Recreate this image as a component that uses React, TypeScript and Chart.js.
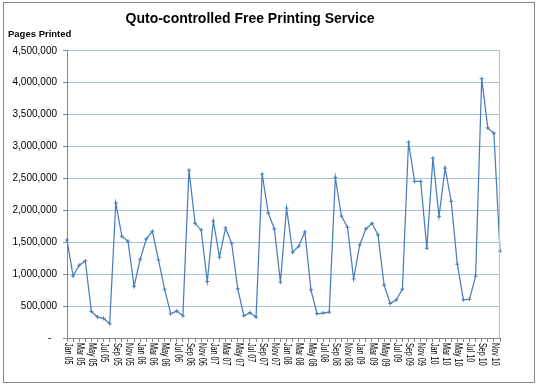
import React, { useEffect, useRef } from "react";
import { Chart, registerables } from "chart.js";

Chart.register(...registerables);

const monthNames = ["Jan", "Feb", "Mar", "Apr", "May", "Jun", "Jul", "Aug", "Sep", "Oct", "Nov", "Dec"];
const years = ["05", "06", "07", "08", "09", "10"];

const pages2005 = [1536000, 974000, 1140000, 1208000, 417000, 328000, 307000, 224000, 2115000, 1594000, 1516000, 812000];
const pages2006 = [1234000, 1552000, 1672000, 1224000, 766000, 380000, 422000, 349000, 2630000, 1797000, 1693000, 885000];
const pages2007 = [1833000, 1266000, 1724000, 1484000, 771000, 349000, 396000, 328000, 2568000, 1958000, 1708000, 875000];
const pages2008 = [2036000, 1344000, 1438000, 1661000, 755000, 380000, 391000, 406000, 2516000, 1911000, 1734000, 927000];
const pages2009 = [1458000, 1708000, 1797000, 1615000, 828000, 540000, 597000, 766000, 3068000, 2453000, 2453000, 1406000];
const pages2010 = [2818000, 1906000, 2661000, 2141000, 1156000, 599000, 609000, 969000, 4063000, 3292000, 3208000, 1359000];

const yTicks = [0, 500000, 1000000, 1500000, 2000000, 2500000, 3000000, 3500000, 4000000, 4500000];

const categories: string[] = [];
years.forEach((y) => monthNames.forEach((m) => categories.push(m + " " + y)));
const pages = [...pages2005, ...pages2006, ...pages2007, ...pages2008, ...pages2009, ...pages2010];

const FONT = "'Liberation Sans', Arial, sans-serif";
const GRID = "rgb(166,192,230)";
const AXIS = "rgb(134,134,134)";

const decorPlugin = {
  id: "decor",
  afterDraw(chart: any) {
    const ctx = chart.ctx;
    const area = chart.chartArea;
    const xs = chart.scales.x;
    ctx.save();
    // plot right border
    ctx.strokeStyle = GRID;
    ctx.lineWidth = 1;
    ctx.beginPath();
    ctx.moveTo(Math.round(area.right) - 0.5, area.top);
    ctx.lineTo(Math.round(area.right) - 0.5, area.bottom);
    ctx.stroke();
    // outer border
    ctx.strokeStyle = AXIS;
    ctx.strokeRect(3.5, 2.5, 531, 380);
    // y axis caption
    ctx.fillStyle = "#000";
    ctx.font = "bold 9.5px " + FONT;
    ctx.textAlign = "left";
    ctx.textBaseline = "middle";
    ctx.fillText("Pages Printed", 8, 34.5);
    // x labels, rotated clockwise, every second category
    ctx.font = "10px " + FONT;
    categories.forEach((label, i) => {
      if (i % 2 !== 0) return;
      const x = xs.getPixelForValue(i);
      ctx.save();
      ctx.translate(x + 0.5, area.bottom + 5);
      ctx.rotate(Math.PI / 2);
      ctx.scale(0.72, 1);
      ctx.textAlign = "left";
      ctx.textBaseline = "middle";
      ctx.fillText(label, 0, 0);
      ctx.restore();
    });
    ctx.restore();
  },
};

export default function App() {
  const ref = useRef<HTMLCanvasElement | null>(null);
  useEffect(() => {
    if (!ref.current) return;
    const chart = new Chart(ref.current, {
      type: "line",
      data: {
        labels: categories,
        datasets: [
          {
            data: pages,
            borderColor: "rgb(74,126,187)",
            backgroundColor: "rgb(74,126,187)",
            borderWidth: 1.25,
            pointStyle: "cross",
            pointRadius: 2,
            pointBorderWidth: 1,
            tension: 0,
            fill: false,
          },
        ],
      },
      options: {
        responsive: false,
        animation: false,
        devicePixelRatio: 1,
        layout: { padding: { left: 0, right: 39, top: 0, bottom: 0 } },
        plugins: {
          legend: { display: false },
          tooltip: { enabled: false },
          title: {
            display: true,
            text: "Quto-controlled Free Printing Service",
            color: "#000",
            font: { family: FONT, size: 14, weight: "bold" },
            padding: { top: 11, bottom: 23 },
          },
        },
        scales: {
          x: {
            type: "category",
            offset: false,
            afterFit: (s: any) => {
              s.height = 50;
            },
            border: { display: true, color: AXIS, width: 1 },
            grid: {
              display: true,
              drawOnChartArea: false,
              drawTicks: true,
              tickLength: 4,
              tickColor: AXIS,
            },
            ticks: { display: false, autoSkip: false },
          },
          y: {
            min: 0,
            max: 4500000,
            afterFit: (s: any) => {
              s.width = 67;
            },
            afterBuildTicks: (s: any) => {
              s.ticks = yTicks.map((v) => ({ value: v }));
            },
            border: { display: true, color: AXIS, width: 1 },
            grid: {
              color: GRID,
              lineWidth: 1,
              drawTicks: true,
              tickLength: 4,
              tickColor: AXIS,
            },
            ticks: {
              padding: 6,
              color: "#000",
              font: { family: FONT, size: 10 },
              callback: (v: any) => (Number(v) === 0 ? "-  " : Number(v).toLocaleString("en-US")),
            },
          },
        },
      },
      plugins: [decorPlugin],
    } as any);
    return () => chart.destroy();
  }, []);
  return (
    <div style={{ position: "absolute", left: 0, top: 0, width: 539, height: 388, background: "#fff" }}>
      <canvas ref={ref} width={539} height={388} style={{ display: "block" }} />
    </div>
  );
}
